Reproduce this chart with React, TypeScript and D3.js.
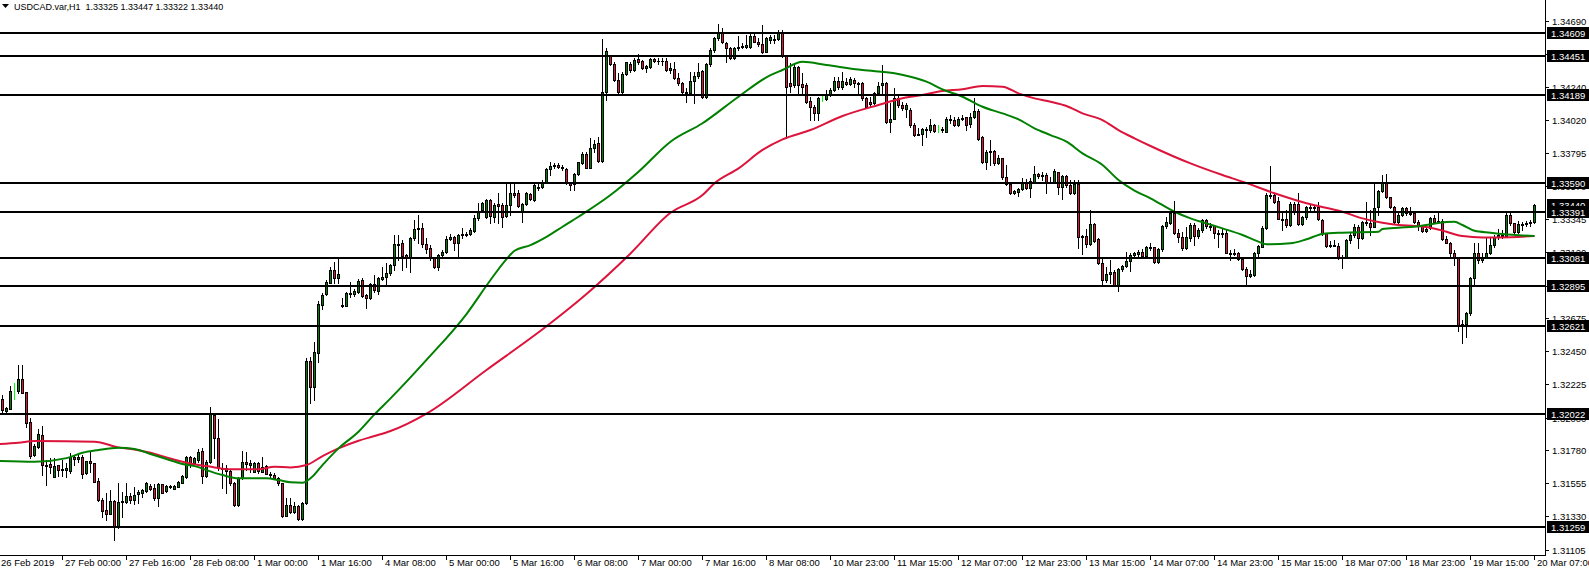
import React, { useEffect, useRef } from 'react';
import * as d3 from 'd3';

// USDCAD H1 candles, prices kept as points above 1.30000 (1 point = 0.00001)
const BASE = 1.3;
const POINT = 0.00001;

const opens = [
  2110, 2123, 2046, 2060, 2180, 2182, 2259, 2171, 1970, 1744,
  1802, 1879, 1680, 1685, 1599, 1676, 1644, 1642, 1640, 1735,
  1721, 1735, 1621, 1703, 1692, 1567, 1438, 1373, 1346, 1434,
  1260, 1429, 1429, 1468, 1441, 1481, 1490, 1504, 1536, 1524,
  1452, 1547, 1504, 1536, 1517, 1531, 1558, 1599, 1730, 1689,
  1712, 1775, 1603, 1696, 2017, 1859, 1655, 1640, 1640, 1554,
  1407, 1588, 1696, 1675, 1633, 1689, 1633, 1671, 1617, 1610,
  1588, 1554, 1332, 1407, 1361, 1400, 1309, 1418, 2383, 2205,
  2436, 2763, 2836, 2915, 3001, 2944, 2761, 2759, 2847, 2836,
  2854, 2933, 2831, 2808, 2903, 2861, 2940, 2951, 2978, 3035,
  3170, 3182, 3103, 3091, 3216, 3277, 3284, 3177, 3148, 3080,
  3019, 3100, 3125, 3211, 3227, 3186, 3238, 3245, 3242, 3268,
  3351, 3405, 3363, 3476, 3363, 3446, 3442, 3367, 3442, 3521,
  3525, 3403, 3446, 3516, 3476, 3566, 3562, 3593, 3684, 3706,
  3713, 3697, 3684, 3589, 3582, 3649, 3724, 3785, 3694, 3830,
  3860, 3740, 4205, 4455, 4395, 4289, 4205, 4328, 4395, 4357,
  4432, 4418, 4368, 4380, 4432, 4418, 4416, 4418, 4357, 4364,
  4300, 4266, 4205, 4200, 4282, 4316, 4350, 4176, 4395, 4493,
  4572, 4606, 4538, 4509, 4436, 4508, 4515, 4516, 4516, 4590,
  4549, 4531, 4481, 4560, 4570, 4565, 4617, 4452, 4266, 4255,
  4375, 4260, 4255, 4148, 4103, 4063, 4160, 4158, 4187, 4221,
  4284, 4239, 4278, 4262, 4289, 4266, 4266, 4165, 4142, 4135,
  4203, 4255, 4266, 4006, 4028, 4165, 4119, 4090, 4086, 3984,
  3916, 3925, 3954, 3950, 3984, 3965, 3950, 3940, 4022, 4020,
  3984, 4022, 4036, 3990, 4036, 4081, 3900, 3735, 3803, 3810,
  3728, 3758, 3629, 3584, 3520, 3532, 3550, 3588, 3554, 3600,
  3652, 3640, 3645, 3593, 3600, 3663, 3561, 3640, 3577, 3520,
  3584, 3227, 3234, 3175, 3312, 3209, 3050, 2933, 2973, 2985,
  2899, 3005, 3028, 3061, 3102, 3107, 3125, 3095, 3151, 3154,
  3057, 3140, 3298, 3320, 3389, 3253, 3222, 3147, 3215, 3305,
  3231, 3271, 3339, 3298, 3298, 3249, 3244, 3255, 3118, 3109,
  3113, 3078, 3005, 2959, 2966, 3113, 3158, 3283, 3509, 3509,
  3470, 3350, 3344, 3305, 3448, 3448, 3312, 3362, 3425, 3420,
  3425, 3339, 3249, 3163, 3170, 3165, 3080, 3087, 3204, 3238,
  3295, 3216, 3329, 3320, 3295, 3426, 3537, 3589, 3494, 3430,
  3329, 3374, 3419, 3390, 3390, 3329, 3299, 3268, 3283, 3351,
  3336, 3336, 3209, 3186, 3114, 3087, 2628, 2632, 2707, 2944,
  3114, 3069, 3085, 3114, 3170, 3222, 3238, 3232, 3374, 3317,
  3261, 3305, 3312, 3318, 3325,
];

const highs = [
  2140, 2153, 2074, 2214, 2236, 2356, 2356, 2175, 1994, 1818,
  1920, 1943, 1712, 1723, 1723, 1678, 1712, 1689, 1757, 1746,
  1757, 1746, 1705, 1768, 1694, 1592, 1452, 1486, 1508, 1441,
  1554, 1497, 1554, 1490, 1526, 1508, 1513, 1565, 1549, 1549,
  1554, 1549, 1542, 1540, 1540, 1569, 1610, 1739, 1739, 1735,
  1784, 1791, 1712, 2074, 2020, 1988, 1689, 1680, 1645, 1560,
  1599, 1775, 1768, 1712, 1696, 1696, 1735, 1678, 1633, 1621,
  1599, 1556, 1452, 1452, 1429, 1405, 1429, 2402, 2408, 2515,
  2793, 2842, 2933, 3023, 3057, 3080, 2808, 2854, 2922, 2870,
  2937, 2944, 2836, 2910, 2967, 2955, 3019, 3046, 3042, 3238,
  3238, 3204, 3107, 3227, 3340, 3374, 3317, 3216, 3170, 3091,
  3107, 3137, 3232, 3245, 3232, 3245, 3283, 3261, 3283, 3374,
  3453, 3464, 3480, 3480, 3453, 3521, 3453, 3589, 3589, 3589,
  3544, 3453, 3532, 3525, 3584, 3589, 3611, 3690, 3736, 3724,
  3724, 3713, 3690, 3600, 3657, 3736, 3803, 3798, 3893, 3882,
  3905, 4567, 4504, 4460, 4413, 4334, 4341, 4413, 4413, 4436,
  4463, 4425, 4391, 4441, 4436, 4436, 4436, 4441, 4402, 4413,
  4334, 4278, 4233, 4346, 4346, 4402, 4357, 4402, 4504, 4583,
  4667, 4640, 4549, 4515, 4515, 4590, 4538, 4594, 4599, 4599,
  4572, 4662, 4583, 4594, 4594, 4628, 4628, 4458, 4402, 4402,
  4384, 4334, 4266, 4176, 4119, 4176, 4187, 4221, 4232, 4311,
  4311, 4345, 4300, 4311, 4300, 4278, 4278, 4176, 4176, 4210,
  4278, 4391, 4278, 4131, 4232, 4180, 4142, 4131, 4097, 4000,
  3961, 3961, 3972, 4022, 3990, 3984, 3972, 4036, 4052, 4036,
  4036, 4052, 4040, 4068, 4165, 4090, 3909, 3814, 3882, 3814,
  3780, 3760, 3713, 3600, 3543, 3554, 3622, 3615, 3622, 3706,
  3661, 3667, 3656, 3633, 3683, 3667, 3645, 3645, 3611, 3611,
  3611, 3238, 3276, 3407, 3322, 3215, 3091, 3023, 3068, 3000,
  3012, 3034, 3125, 3118, 3125, 3136, 3140, 3163, 3185, 3158,
  3147, 3305, 3362, 3396, 3470, 3276, 3260, 3294, 3321, 3317,
  3283, 3350, 3344, 3317, 3305, 3271, 3276, 3271, 3136, 3140,
  3124, 3086, 3023, 3000, 3124, 3170, 3298, 3520, 3705, 3525,
  3497, 3396, 3407, 3463, 3463, 3520, 3366, 3434, 3441, 3434,
  3463, 3344, 3253, 3199, 3204, 3181, 3103, 3209, 3250, 3313,
  3306, 3336, 3464, 3408, 3589, 3544, 3645, 3652, 3498, 3435,
  3385, 3430, 3430, 3430, 3397, 3340, 3306, 3306, 3363, 3374,
  3390, 3345, 3232, 3193, 3137, 3091, 2662, 2718, 2956, 3182,
  3182, 3114, 3216, 3227, 3238, 3277, 3272, 3385, 3390, 3322,
  3333, 3327, 3330, 3342, 3447,
];

const lows = [
  2090, 2040, 2033, 2056, 2123, 2169, 2164, 1938, 1723, 1739,
  1796, 1610, 1542, 1621, 1599, 1603, 1603, 1594, 1621, 1678,
  1701, 1588, 1619, 1633, 1563, 1436, 1328, 1305, 1344, 1169,
  1248, 1328, 1418, 1418, 1413, 1418, 1463, 1497, 1508, 1441,
  1402, 1486, 1497, 1520, 1515, 1526, 1554, 1592, 1667, 1685,
  1701, 1554, 1594, 1689, 1723, 1644, 1520, 1490, 1542, 1400,
  1400, 1581, 1644, 1633, 1630, 1626, 1630, 1615, 1588, 1585,
  1542, 1323, 1330, 1350, 1355, 1305, 1305, 1413, 2096, 2119,
  2379, 2736, 2831, 2910, 2910, 2910, 2752, 2757, 2820, 2824,
  2847, 2820, 2741, 2802, 2854, 2838, 2933, 2899, 2967, 3001,
  3069, 3001, 3023, 2990, 3204, 3182, 3159, 3114, 3069, 3012,
  3001, 3091, 3114, 3204, 3137, 3087, 3216, 3232, 3238, 3261,
  3340, 3395, 3351, 3317, 3329, 3317, 3295, 3363, 3374, 3498,
  3430, 3329, 3442, 3476, 3471, 3544, 3555, 3589, 3645, 3690,
  3690, 3679, 3584, 3544, 3544, 3645, 3722, 3690, 3690, 3803,
  3735, 3735, 4153, 4391, 4282, 4196, 4196, 4323, 4346, 4350,
  4395, 4364, 4346, 4373, 4409, 4395, 4391, 4350, 4334, 4296,
  4255, 4196, 4138, 4187, 4131, 4300, 4169, 4169, 4386, 4477,
  4560, 4538, 4413, 4432, 4432, 4493, 4504, 4504, 4508, 4545,
  4522, 4470, 4477, 4542, 4538, 4560, 4447, 3893, 4210, 4244,
  4203, 4199, 4135, 4018, 4018, 4018, 4149, 4153, 4180, 4217,
  4226, 4226, 4255, 4255, 4244, 4199, 4153, 4097, 4108, 4130,
  4187, 4187, 4000, 3939, 4022, 4108, 4086, 4036, 3972, 3909,
  3916, 3848, 3905, 3939, 3939, 3939, 3939, 3939, 4000, 3977,
  3980, 4018, 3950, 3968, 4029, 3882, 3724, 3683, 3713, 3713,
  3719, 3615, 3577, 3516, 3516, 3502, 3543, 3548, 3498, 3588,
  3622, 3611, 3525, 3588, 3600, 3516, 3480, 3566, 3516, 3516,
  3147, 3109, 3159, 3170, 3193, 3039, 2905, 2921, 2910, 2894,
  2860, 2996, 3018, 2996, 3086, 3091, 3086, 3091, 3136, 3045,
  3050, 3131, 3289, 3312, 3244, 3192, 3136, 3140, 3199, 3170,
  3215, 3260, 3289, 3271, 3215, 3154, 3222, 3113, 3068, 3102,
  3068, 3000, 2898, 2955, 2959, 3095, 3154, 3276, 3486, 3452,
  3344, 3271, 3294, 3298, 3384, 3305, 3305, 3350, 3407, 3396,
  3339, 3238, 3158, 3158, 3163, 3073, 3012, 3080, 3182, 3227,
  3148, 3209, 3306, 3238, 3290, 3374, 3528, 3487, 3419, 3322,
  3322, 3367, 3374, 3374, 3317, 3272, 3261, 3261, 3277, 3317,
  3317, 3204, 3182, 3091, 3035, 2589, 2503, 2549, 2696, 2906,
  3046, 3057, 3080, 3109, 3160, 3209, 3216, 3227, 3306, 3254,
  3254, 3273, 3300, 3297, 3322,
];

const closes = [
  2123, 2051, 2062, 2180, 2180, 2259, 2169, 1961, 1739, 1807,
  1886, 1678, 1670, 1667, 1671, 1642, 1651, 1655, 1735, 1719,
  1735, 1615, 1703, 1690, 1565, 1441, 1368, 1346, 1434, 1264,
  1429, 1434, 1468, 1441, 1475, 1492, 1508, 1554, 1517, 1452,
  1549, 1490, 1536, 1527, 1536, 1560, 1603, 1730, 1678, 1728,
  1768, 1603, 1701, 2022, 1859, 1655, 1650, 1660, 1554, 1407,
  1588, 1696, 1685, 1692, 1689, 1640, 1667, 1617, 1608, 1588,
  1554, 1332, 1407, 1361, 1400, 1309, 1423, 2383, 2205, 2442,
  2770, 2831, 2922, 3001, 2944, 2974, 2757, 2847, 2838, 2861,
  2928, 2827, 2808, 2903, 2865, 2944, 2951, 2978, 3035, 3177,
  3180, 3098, 3085, 3216, 3277, 3284, 3177, 3141, 3080, 3019,
  3103, 3125, 3211, 3227, 3186, 3238, 3245, 3240, 3272, 3351,
  3401, 3452, 3476, 3367, 3442, 3435, 3363, 3442, 3521, 3510,
  3435, 3449, 3521, 3480, 3577, 3555, 3600, 3684, 3706, 3713,
  3697, 3690, 3589, 3575, 3649, 3730, 3785, 3694, 3830, 3853,
  3740, 4205, 4486, 4395, 4289, 4205, 4328, 4409, 4357, 4425,
  4413, 4368, 4386, 4432, 4418, 4416, 4420, 4357, 4368, 4300,
  4266, 4205, 4200, 4282, 4316, 4346, 4176, 4395, 4493, 4572,
  4612, 4545, 4504, 4441, 4508, 4515, 4520, 4525, 4590, 4549,
  4531, 4481, 4576, 4578, 4560, 4605, 4452, 4244, 4248, 4375,
  4255, 4245, 4142, 4103, 4063, 4165, 4160, 4187, 4221, 4284,
  4239, 4284, 4262, 4293, 4266, 4260, 4165, 4108, 4130, 4203,
  4248, 4266, 4006, 4028, 4165, 4119, 4097, 4119, 3984, 3916,
  3925, 3954, 3950, 3984, 3945, 3965, 3957, 4022, 4015, 3984,
  4022, 4029, 3984, 4036, 4081, 3887, 3735, 3803, 3810, 3728,
  3758, 3629, 3584, 3520, 3535, 3550, 3588, 3554, 3604, 3652,
  3640, 3648, 3593, 3600, 3672, 3561, 3640, 3577, 3520, 3584,
  3227, 3234, 3175, 3312, 3199, 3046, 2933, 2973, 2985, 2899,
  3005, 3028, 3061, 3102, 3113, 3125, 3095, 3154, 3160, 3057,
  3140, 3298, 3328, 3389, 3253, 3222, 3147, 3222, 3305, 3231,
  3271, 3339, 3298, 3292, 3249, 3244, 3249, 3118, 3109, 3118,
  3073, 3005, 2959, 2975, 3113, 3163, 3289, 3509, 3500, 3463,
  3350, 3340, 3305, 3448, 3396, 3312, 3362, 3425, 3418, 3427,
  3344, 3249, 3163, 3170, 3165, 3079, 3091, 3204, 3238, 3295,
  3216, 3329, 3320, 3295, 3419, 3537, 3589, 3494, 3430, 3329,
  3374, 3419, 3385, 3380, 3329, 3299, 3268, 3280, 3351, 3329,
  3329, 3209, 3186, 3114, 3087, 2628, 2635, 2707, 2944, 3114,
  3069, 3085, 3114, 3170, 3222, 3238, 3232, 3374, 3317, 3261,
  3313, 3312, 3318, 3325, 3440,
];

// bars drawn as a plain lime stroke (open == close)
const limeBars = [4, 206, 235];

// moving averages, read at sample bars
const maGreenIdx = [0, 9, 17, 21, 25, 30, 34, 38, 42, 46, 50, 52, 56, 60, 67, 70, 73, 76, 78, 81, 85, 90, 94, 98, 107, 117, 123, 127, 129, 133, 137, 141, 145, 153, 160, 168, 176, 185, 193, 196, 201, 207, 216, 224, 228, 232, 236, 241, 246, 251, 255, 259, 263, 267, 271, 276, 280, 284, 288, 294, 298, 302, 306, 311, 315, 317, 323, 327, 331, 336, 345, 346, 350, 354, 358, 362, 364, 366, 369, 373, 376, 384];
const maGreen = [1705, 1700, 1725, 1761, 1780, 1795, 1787, 1753, 1719, 1685, 1664, 1644, 1610, 1588, 1588, 1576, 1561, 1558, 1588, 1678, 1791, 1904, 2022, 2130, 2391, 2702, 2933, 3075, 3131, 3170, 3226, 3294, 3362, 3509, 3667, 3871, 3996, 4176, 4323, 4357, 4413, 4391, 4357, 4335, 4312, 4278, 4226, 4176, 4108, 4063, 4023, 3962, 3916, 3871, 3792, 3713, 3611, 3539, 3487, 3396, 3351, 3317, 3283, 3238, 3193, 3175, 3182, 3209, 3245, 3254, 3260, 3279, 3288, 3294, 3311, 3326, 3328, 3306, 3267, 3254, 3245, 3231];

const maRedIdx = [0, 5, 9, 24, 30, 34, 38, 42, 46, 50, 52, 58, 65, 69, 73, 77, 81, 85, 90, 94, 98, 107, 122, 137, 147, 158, 168, 176, 179, 185, 191, 196, 203, 211, 220, 226, 231, 236, 241, 246, 251, 255, 259, 263, 267, 271, 276, 280, 284, 288, 298, 306, 311, 319, 327, 336, 341, 346, 350, 354, 358, 362, 366, 371, 375, 384];
const maRed = [1820, 1829, 1841, 1836, 1798, 1784, 1761, 1730, 1700, 1678, 1671, 1649, 1649, 1666, 1662, 1678, 1739, 1791, 1843, 1875, 1909, 2027, 2323, 2619, 2838, 3113, 3389, 3509, 3589, 3690, 3815, 3887, 3950, 4045, 4120, 4165, 4188, 4215, 4226, 4249, 4244, 4199, 4165, 4142, 4113, 4063, 4018, 3950, 3894, 3842, 3724, 3645, 3600, 3521, 3453, 3396, 3351, 3321, 3306, 3299, 3288, 3260, 3231, 3222, 3222, 3231];

// one label every 16 bars
const timeLabels = [
  '26 Feb 2019', '27 Feb 00:00', '27 Feb 16:00', '28 Feb 08:00', '1 Mar 00:00', '1 Mar 16:00',
  '4 Mar 08:00', '5 Mar 00:00', '5 Mar 16:00', '6 Mar 08:00', '7 Mar 00:00', '7 Mar 16:00',
  '8 Mar 08:00', '10 Mar 23:00', '11 Mar 15:00', '12 Mar 07:00', '12 Mar 23:00', '13 Mar 15:00',
  '14 Mar 07:00', '14 Mar 23:00', '15 Mar 15:00', '18 Mar 07:00', '18 Mar 23:00', '19 Mar 15:00',
  '20 Mar 07:00',
];

const priceTicks = [
  1.3469, 1.34465, 1.3424, 1.3402, 1.33795, 1.3357, 1.33345, 1.3312, 1.32895,
  1.32675, 1.3245, 1.32225, 1.32, 1.3178, 1.31555, 1.3133, 1.31105,
];

const levelLines = [1.34609, 1.34451, 1.34189, 1.3359, 1.33391, 1.33081, 1.32895, 1.32621, 1.32022, 1.31259];
const bidPrice = 1.3344;

const headerText = 'USDCAD.var,H1  1.33325 1.33447 1.33322 1.33440';

const W = 1589;
const H = 570;
const PLOT_R = 1545;
const PLOT_B = 555;
const PRICE_MIN = 1.31068;
const PRICE_MAX = 1.34832;
const FONT = "'Liberation Sans', Arial, sans-serif";
const BULL = '#008000';
const BEAR = '#dc143c';

const toPrice = (v: number) => BASE + v * POINT;

const UsdCadChart: React.FC = () => {
  const svgRef = useRef<SVGSVGElement | null>(null);

  useEffect(() => {
    document.body.style.margin = '0';
    document.body.style.overflow = 'hidden';
    if (!svgRef.current) return;

    const svg = d3.select(svgRef.current);
    svg.selectAll('*').remove();

    const x = d3.scaleLinear().domain([0, closes.length - 1]).range([-2, 1534]);
    const y = d3.scaleLinear().domain([PRICE_MIN, PRICE_MAX]).range([PLOT_B, 0]);

    svg.append('rect').attr('width', W).attr('height', H).attr('fill', '#fff');

    svg.append('defs').append('clipPath').attr('id', 'plotClip')
      .append('rect').attr('x', 0).attr('y', 0).attr('width', PLOT_R).attr('height', PLOT_B);

    // candles
    const cg = svg.append('g')
      .attr('clip-path', 'url(#plotClip)')
      .attr('shape-rendering', 'crispEdges');

    closes.forEach((c, i) => {
      const cx = Math.round(x(i));
      const yh = Math.round(y(toPrice(highs[i])));
      const yl = Math.round(y(toPrice(lows[i])));
      const yo = Math.round(y(toPrice(opens[i])));
      const yc = Math.round(y(toPrice(c)));

      if (limeBars.includes(i)) {
        cg.append('line')
          .attr('x1', cx + 0.5).attr('x2', cx + 0.5)
          .attr('y1', yh).attr('y2', yl + 1)
          .attr('stroke', '#00ff00');
        return;
      }

      cg.append('line')
        .attr('x1', cx + 0.5).attr('x2', cx + 0.5)
        .attr('y1', yh).attr('y2', yl + 1)
        .attr('stroke', '#000');

      const top = Math.min(yo, yc);
      const bot = Math.max(yo, yc);
      if (bot - top < 1) {
        cg.append('rect')
          .attr('x', cx - 1).attr('y', top)
          .attr('width', 3).attr('height', 1)
          .attr('fill', '#000');
      } else {
        cg.append('rect')
          .attr('x', cx - 0.5).attr('y', top + 0.5)
          .attr('width', 2).attr('height', bot - top)
          .attr('fill', c >= opens[i] ? BULL : BEAR)
          .attr('stroke', '#000');
      }
    });

    // moving averages
    const maLine = d3.line<[number, number]>()
      .x(d => x(d[0]) + 0.5)
      .y(d => y(toPrice(d[1])))
      .curve(d3.curveMonotoneX);

    const maG = svg.append('g').attr('clip-path', 'url(#plotClip)');
    maG.append('path')
      .datum(maRedIdx.map((idx, k) => [idx, maRed[k]] as [number, number]))
      .attr('d', maLine)
      .attr('fill', 'none')
      .attr('stroke', BEAR)
      .attr('stroke-width', 2);
    maG.append('path')
      .datum(maGreenIdx.map((idx, k) => [idx, maGreen[k]] as [number, number]))
      .attr('d', maLine)
      .attr('fill', 'none')
      .attr('stroke', BULL)
      .attr('stroke-width', 2);

    // horizontal levels
    svg.append('g').attr('shape-rendering', 'crispEdges')
      .selectAll('line')
      .data(levelLines)
      .enter()
      .append('line')
      .attr('x1', 0).attr('x2', PLOT_R)
      .attr('y1', d => Math.round(y(d))).attr('y2', d => Math.round(y(d)))
      .attr('stroke', '#000')
      .attr('stroke-width', 2);

    // axes frame
    const axisG = svg.append('g').attr('shape-rendering', 'crispEdges');
    axisG.append('line')
      .attr('x1', PLOT_R + 0.5).attr('x2', PLOT_R + 0.5)
      .attr('y1', 0).attr('y2', PLOT_B + 1)
      .attr('stroke', '#000');
    axisG.append('line')
      .attr('x1', 0).attr('x2', PLOT_R + 1)
      .attr('y1', PLOT_B + 0.5).attr('y2', PLOT_B + 0.5)
      .attr('stroke', '#000');

    // price scale ticks
    priceTicks.forEach(p => {
      const yy = Math.round(y(p));
      axisG.append('line')
        .attr('x1', PLOT_R + 1).attr('x2', PLOT_R + 4)
        .attr('y1', yy + 0.5).attr('y2', yy + 0.5)
        .attr('stroke', '#000');
      svg.append('text')
        .attr('x', PLOT_R + 7)
        .attr('y', yy + 4)
        .attr('font-family', FONT)
        .attr('font-size', 9.5)
        .attr('fill', '#000')
        .text(p.toFixed(5));
    });

    // price boxes for bid and level lines
    const box = (p: number) => {
      const yy = Math.round(y(p));
      svg.append('rect')
        .attr('x', PLOT_R + 2).attr('y', yy - 6)
        .attr('width', W - PLOT_R - 2).attr('height', 12)
        .attr('fill', '#000');
      svg.append('text')
        .attr('x', PLOT_R + 6)
        .attr('y', yy + 4)
        .attr('font-family', FONT)
        .attr('font-size', 9.5)
        .attr('fill', '#fff')
        .text(p.toFixed(5));
    };
    box(bidPrice);
    levelLines.forEach(box);

    // time scale
    timeLabels.forEach((label, k) => {
      const cx = Math.round(x(k * 16));
      axisG.append('line')
        .attr('x1', cx + 0.5).attr('x2', cx + 0.5)
        .attr('y1', PLOT_B + 1).attr('y2', PLOT_B + 5)
        .attr('stroke', '#000');
      svg.append('text')
        .attr('x', cx + 3)
        .attr('y', PLOT_B + 11)
        .attr('font-family', FONT)
        .attr('font-size', 9.5)
        .attr('fill', '#000')
        .text(label);
    });

    // header
    svg.append('path')
      .attr('d', 'M2,4 L9,4 L5.5,8 Z')
      .attr('fill', '#000');
    svg.append('text')
      .attr('x', 14)
      .attr('y', 9.5)
      .attr('font-family', FONT)
      .attr('font-size', 9)
      .attr('fill', '#000')
      .style('white-space', 'pre')
      .text(headerText);
  }, []);

  return <svg ref={svgRef} width={W} height={H} style={{ display: 'block' }} />;
};

export default function App() {
  return <UsdCadChart />;
}
